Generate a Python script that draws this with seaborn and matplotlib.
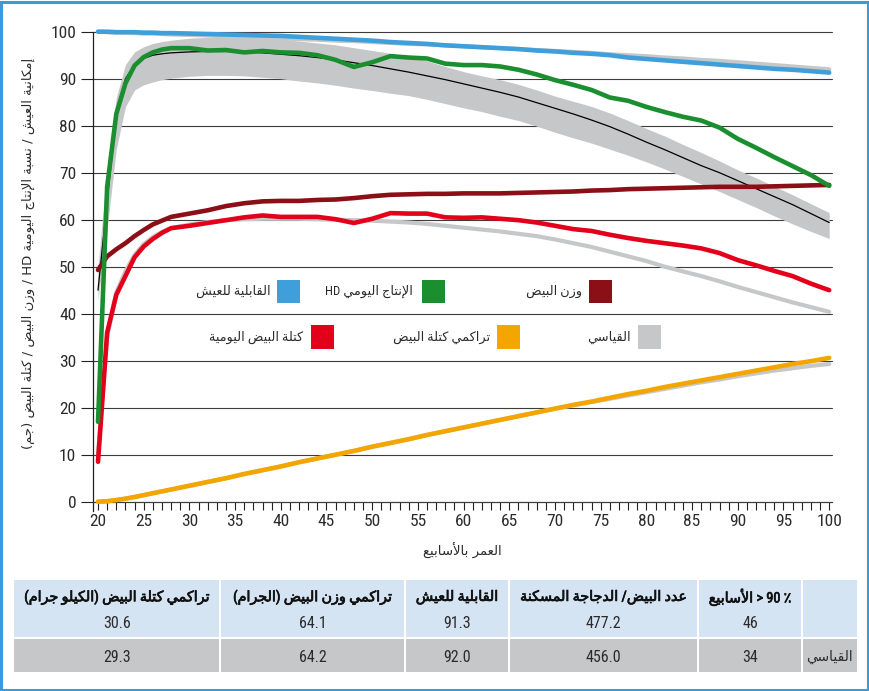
import re
import matplotlib
matplotlib.use("Agg")
import matplotlib.pyplot as plt
import matplotlib.patheffects as pe
from matplotlib import font_manager
from matplotlib.patches import Rectangle
from matplotlib.ticker import MultipleLocator
import seaborn as sns

# ---------------------------------------------------------------- data
weeks = [20, 21, 22, 23, 24, 25, 26, 27, 28, 30, 32, 34, 36, 38, 40, 42, 44, 46, 48, 50,
         52, 54, 56, 58, 60, 62, 64, 66, 68, 70, 72, 74, 76, 78, 80, 82, 84, 86, 88, 90,
         92, 94, 96, 98, 100]

viability = [100.0, 100.0, 99.9, 99.9, 99.9, 99.8, 99.8, 99.7, 99.7, 99.6, 99.5, 99.4, 99.3, 99.2,
             99.1, 98.9, 98.7, 98.5, 98.3, 98.1, 97.8, 97.6, 97.4, 97.1, 96.9, 96.7, 96.5, 96.3,
             96.0, 95.8, 95.5, 95.3, 95.0, 94.5, 94.2, 93.9, 93.6, 93.3, 93.0, 92.7, 92.4, 92.1,
             91.9, 91.6, 91.3]
viability_std = [100.0, 99.9, 99.8, 99.8, 99.7, 99.6, 99.6, 99.5, 99.4, 99.3, 99.2, 99.0, 98.9, 98.7,
                 98.6, 98.4, 98.3, 98.1, 98.0, 97.8, 97.6, 97.4, 97.3, 97.1, 96.9, 96.7, 96.5, 96.3,
                 96.1, 95.9, 95.7, 95.5, 95.2, 95.0, 94.8, 94.5, 94.3, 94.0, 93.8, 93.5, 93.2, 92.9,
                 92.6, 92.3, 92.0]
hd_production = [17.0, 67.0, 82.5, 89.0, 92.8, 94.6, 95.6, 96.2, 96.5, 96.5, 96.0, 96.1, 95.6, 95.9,
                 95.6, 95.5, 95.0, 94.0, 92.5, 93.5, 94.8, 94.5, 94.3, 93.2, 92.9, 92.9, 92.6, 91.9,
                 90.9, 89.7, 88.7, 87.6, 86.0, 85.3, 84.0, 82.9, 81.9, 81.1, 79.6, 77.2, 75.3, 73.3,
                 71.4, 69.5, 67.2]
hd_std = [45.0, 64.0, 82.0, 90.0, 93.0, 94.3, 95.0, 95.3, 95.5, 95.7, 95.8, 95.8, 95.7, 95.5,
          95.2, 94.9, 94.5, 94.0, 93.4, 92.8, 92.1, 91.4, 90.6, 89.8, 88.9, 88.0, 87.1, 86.1,
          84.9, 83.7, 82.5, 81.2, 79.8, 78.2, 76.5, 74.9, 73.2, 71.5, 70.0, 68.3, 66.6, 64.9,
          63.2, 61.3, 59.4]
hd_std_high = [50.0, 71.0, 86.0, 93.0, 95.7, 96.8, 97.5, 97.9, 98.2, 98.6, 98.8, 99.0, 98.9, 98.7,
               98.4, 98.0, 97.6, 97.2, 96.6, 96.0, 95.4, 94.7, 93.8, 92.6, 91.5, 90.6, 89.8, 88.8,
               87.6, 86.3, 85.2, 84.1, 82.7, 81.1, 79.4, 77.8, 76.0, 74.3, 72.5, 70.6, 68.9, 67.1,
               65.3, 63.4, 61.5]
hd_std_low = [43.0, 58.0, 75.0, 84.0, 87.6, 88.7, 89.3, 89.8, 90.1, 90.5, 90.7, 90.7, 90.6, 90.3,
              90.0, 89.5, 89.1, 88.6, 88.0, 87.5, 86.9, 86.4, 85.6, 84.7, 83.8, 83.0, 82.0, 81.1,
              79.9, 78.6, 77.4, 76.3, 75.0, 73.7, 72.3, 70.8, 69.2, 67.6, 66.0, 64.3, 62.6, 60.8,
              59.1, 57.5, 56.0]
egg_weight = [49.3, 52.2, 53.7, 55.0, 56.5, 57.8, 59.0, 59.8, 60.6, 61.3, 62.0, 62.9, 63.5, 63.9,
              64.0, 64.0, 64.2, 64.3, 64.6, 65.0, 65.3, 65.4, 65.5, 65.5, 65.6, 65.6, 65.6, 65.7,
              65.8, 65.9, 66.0, 66.2, 66.3, 66.5, 66.6, 66.7, 66.8, 66.9, 67.0, 67.0, 67.0, 67.1,
              67.2, 67.3, 67.4]
egg_mass = [8.5, 36.0, 44.0, 48.0, 52.0, 54.3, 55.9, 57.2, 58.2, 58.7, 59.3, 59.9, 60.5, 60.9,
            60.6, 60.6, 60.6, 60.1, 59.3, 60.2, 61.4, 61.3, 61.3, 60.5, 60.4, 60.5, 60.2, 59.9,
            59.4, 58.7, 58.0, 57.6, 56.8, 56.1, 55.5, 55.0, 54.5, 53.9, 52.9, 51.4, 50.3, 49.1,
            48.0, 46.4, 45.0]
egg_mass_std = [10.0, 35.0, 44.5, 49.0, 52.5, 54.8, 56.3, 57.4, 58.2, 59.0, 59.5, 59.9, 60.1, 60.2,
                60.2, 60.2, 60.1, 60.0, 59.9, 59.8, 59.6, 59.4, 59.1, 58.7, 58.3, 57.9, 57.5, 57.0,
                56.5, 55.8, 55.0, 54.2, 53.2, 52.2, 51.2, 50.0, 49.0, 48.0, 46.9, 45.7, 44.6, 43.5,
                42.4, 41.4, 40.4]
cum_egg_mass = [0.0, 0.1, 0.35, 0.65, 1.0, 1.4, 1.8, 2.2, 2.6, 3.4, 4.2, 5.0, 5.9, 6.7,
                7.5, 8.4, 9.2, 10.0, 10.8, 11.7, 12.5, 13.3, 14.2, 15.0, 15.8, 16.6, 17.4, 18.2,
                19.0, 19.8, 20.6, 21.3, 22.1, 22.9, 23.6, 24.4, 25.1, 25.8, 26.5, 27.2, 27.9, 28.6,
                29.3, 29.9, 30.6]
cum_egg_mass_std = [0.0, 0.1, 0.35, 0.65, 1.0, 1.4, 1.8, 2.2, 2.6, 3.4, 4.2, 5.0, 5.9, 6.7,
                    7.5, 8.4, 9.2, 10.0, 10.8, 11.7, 12.5, 13.3, 14.2, 15.0, 15.8, 16.6, 17.4, 18.2,
                    19.0, 19.8, 20.5, 21.2, 21.9, 22.6, 23.3, 24.0, 24.7, 25.4, 26.0, 26.7, 27.3, 27.9,
                    28.4, 28.9, 29.3]

y_ticks = [0, 10, 20, 30, 40, 50, 60, 70, 80, 90, 100]
x_ticks = [20, 25, 30, 35, 40, 45, 50, 55, 60, 65, 70, 75, 80, 85, 90, 95, 100]

legend_labels = {
    "viability": "القابلية للعيش",
    "hd": "الإنتاج اليومي HD",
    "egg_weight": "وزن البيض",
    "egg_mass": "كتلة البيض اليومية",
    "cum_mass": "تراكمي كتلة البيض",
    "standard": "القياسي",
}
x_label = "العمر بالأسابيع"
y_label = "إمكانية العيش / نسبة الإنتاج اليومية HD / وزن البيض / كتلة البيض (جم)"

table_headers = ["تراكمي كتلة البيض (الكيلو جرام)", "تراكمي وزن البيض (الجرام)",
                 "القابلية للعيش", "عدد البيض/ الدجاجة المسكنة", "الأسابيع|> 90 ٪", ""]
table_row_product = ["30.6", "64.1", "91.3", "477.2", "46", ""]
table_row_standard = ["29.3", "64.2", "92.0", "456.0", "34", "القياسي"]

colors = {
    "viability": "#3f9fdb",
    "hd": "#1b8f2f",
    "egg_weight": "#8c0e16",
    "egg_mass": "#e3001b",
    "cum_mass": "#f4a600",
    "standard": "#c6c7c9",
}

# ---------------------------------------------------------------- Arabic text shaping
_FORMS = {
    "ء": (0xFE80, 1), "آ": (0xFE81, 2), "أ": (0xFE83, 2), "ؤ": (0xFE85, 2), "إ": (0xFE87, 2),
    "ئ": (0xFE89, 4), "ا": (0xFE8D, 2), "ب": (0xFE8F, 4), "ة": (0xFE93, 2), "ت": (0xFE95, 4),
    "ث": (0xFE99, 4), "ج": (0xFE9D, 4), "ح": (0xFEA1, 4), "خ": (0xFEA5, 4), "د": (0xFEA9, 2),
    "ذ": (0xFEAB, 2), "ر": (0xFEAD, 2), "ز": (0xFEAF, 2), "س": (0xFEB1, 4), "ش": (0xFEB5, 4),
    "ص": (0xFEB9, 4), "ض": (0xFEBD, 4), "ط": (0xFEC1, 4), "ظ": (0xFEC5, 4), "ع": (0xFEC9, 4),
    "غ": (0xFECD, 4), "ف": (0xFED1, 4), "ق": (0xFED5, 4), "ك": (0xFED9, 4), "ل": (0xFEDD, 4),
    "م": (0xFEE1, 4), "ن": (0xFEE5, 4), "ه": (0xFEE9, 4), "و": (0xFEED, 2), "ى": (0xFEEF, 2),
    "ي": (0xFEF1, 4),
}
_LAM_ALEF = {"آ": 0xFEF5, "أ": 0xFEF7, "إ": 0xFEF9, "ا": 0xFEFB}
_MIRROR = {"(": ")", ")": "(", "<": ">", ">": "<", "[": "]", "]": "["}


def _joins_prev(c):
    return c in _FORMS and _FORMS[c][1] > 1


def shape(text):
    out, prev_link, i = [], False, 0
    while i < len(text):
        c = text[i]
        if c not in _FORMS:
            out.append(c)
            prev_link = False
            i += 1
            continue
        base, nforms = _FORMS[c]
        if c == "ل" and i + 1 < len(text) and text[i + 1] in _LAM_ALEF:
            out.append(chr(_LAM_ALEF[text[i + 1]] + (1 if prev_link else 0)))
            prev_link = False
            i += 2
            continue
        if nforms == 1:
            out.append(chr(base))
            prev_link = False
            i += 1
            continue
        nxt = text[i + 1] if i + 1 < len(text) else ""
        link_next = nforms == 4 and _joins_prev(nxt)
        if prev_link and link_next:
            form = 3
        elif prev_link:
            form = 1
        elif link_next:
            form = 2
        else:
            form = 0
        out.append(chr(base + form))
        prev_link = link_next
        i += 1
    return "".join(out)


def rtl(text):
    """Shaped Arabic text laid out right-to-left for a left-to-right renderer."""
    tokens = re.findall(r"[A-Za-z0-9.]+|.", shape(text))
    return "".join(_MIRROR.get(t, t) for t in reversed(tokens))


def cell_text(text):
    if "|" in text:  # Arabic word followed by a left-to-right expression
        word, rest = text.split("|")
        return rtl(word) + " " + rest
    return rtl(text)


# ---------------------------------------------------------------- fonts
_names = {f.name for f in font_manager.fontManager.ttflist}
narrow = next((n for n in ["Liberation Sans Narrow", "Roboto Condensed", "Open Sans Condensed",
                           "Liberation Sans"] if n in _names), "DejaVu Sans")
sns.set_theme(style="white")
plt.rcParams["font.family"] = [narrow, "DejaVu Sans"]
ARABIC = ["DejaVu Sans"]
TXT = "#2b2b2b"

# ---------------------------------------------------------------- figure
W, H = 870, 691
fig = plt.figure(figsize=(W / 100, H / 100), dpi=100)
fig.patch.set_facecolor("white")


def fx(x):
    return x / W


def fy(y):
    return 1 - y / H


AX_L, AX_R, AX_T, AX_B = 93, 832, 31.7, 501.7
ax = fig.add_axes([fx(AX_L), fy(AX_B), (AX_R - AX_L) / W, (AX_B - AX_T) / H])
ax.set_facecolor("white")

px_per_week = (829.2 - 98.0) / 80
ax.set_xlim(20 - (98 - AX_L) / px_per_week, 100 + (AX_R - 829.2) / px_per_week)
ax.set_ylim(0, 100)

# standard band and standard curves
ax.fill_between(weeks, hd_std_low, hd_std_high, color=colors["standard"], lw=0, zorder=1)
for series in (viability_std, egg_mass_std, cum_egg_mass_std):
    sns.lineplot(x=weeks, y=series, ax=ax, color=colors["standard"], linewidth=3.0,
                 legend=False, zorder=1.5, clip_on=False)
sns.lineplot(x=weeks, y=hd_std, ax=ax, color="black", linewidth=0.9, legend=False, zorder=2,
             clip_on=False)

# product curves
for series, key in ((viability, "viability"), (cum_egg_mass, "cum_mass"),
                    (egg_weight, "egg_weight"), (egg_mass, "egg_mass"), (hd_production, "hd")):
    sns.lineplot(x=weeks, y=series, ax=ax, color=colors[key], linewidth=3.3, legend=False,
                 zorder=3, clip_on=False, solid_joinstyle="round")

# axes styling
ax.set_yticks(y_ticks)
ax.set_xticks(x_ticks)
ax.xaxis.set_minor_locator(MultipleLocator(1))
ax.grid(axis="y", color="#3c3c3c", linewidth=0.8)
ax.set_axisbelow(True)
for gl in ax.get_ygridlines():
    gl.set_clip_on(False)
for side in ("top", "right"):
    ax.spines[side].set_visible(False)
ax.spines["left"].set_color("#222222")
ax.spines["left"].set_linewidth(0.9)
ax.spines["left"].set_bounds(-2, 100)
ax.spines["bottom"].set_color("#3c3c3c")
ax.spines["bottom"].set_linewidth(0.8)
ax.tick_params(axis="y", which="major", direction="out", length=9, width=0.8, color="#222222",
               pad=3, labelsize=12.5, labelcolor=TXT, left=True)
ax.tick_params(axis="x", which="both", direction="out", length=5.5, width=0.8, color="#222222",
               pad=3, labelsize=12.5, labelcolor=TXT, bottom=True)
ax.tick_params(axis="x", which="minor", labelbottom=False)
ax.set_xlabel("")
ax.set_ylabel("")

fig.text(fx(462), fy(551), rtl(x_label), ha="center", va="center", fontsize=9.5,
         color=TXT, family=ARABIC)
fig.text(fx(28), fy(253), rtl(y_label), ha="center", va="center", rotation=90, fontsize=9.5,
         color=TXT, family=ARABIC)

# legend: swatch left edge, swatch top, text right edge, text centre line
legend_items = [
    ("viability", 277, 279.5, 271, 291.5),
    ("hd", 422, 279.5, 413, 291.5),
    ("egg_weight", 589, 279.5, 582, 291.5),
    ("egg_mass", 311, 325, 303, 337.5),
    ("cum_mass", 497, 325, 490, 337.5),
    ("standard", 638, 325, 631, 337.5),
]
SW = 23.5
for key, x0, y0, tx, ty in legend_items:
    fig.patches.append(Rectangle((fx(x0), fy(y0 + SW)), SW / W, SW / H,
                                 transform=fig.transFigure, facecolor=colors[key],
                                 edgecolor="none", zorder=5))
    fig.text(fx(tx), fy(ty), rtl(legend_labels[key]), ha="right", va="center", fontsize=9.3,
             color=TXT, family=[narrow, "DejaVu Sans"], zorder=5)

# summary table
col_edges = [14, 220, 405, 509, 698, 802, 857]
row_edges = [580, 610, 637, 639, 672]
blue_fill, grey_fill = "#d5e4f3", "#c6c7c9"
gap = 2
semibold = [pe.withStroke(linewidth=0.5, foreground="#111111")]
for c in range(len(col_edges) - 1):
    x0 = col_edges[c] + (gap / 2 if c > 0 else 0)
    x1 = col_edges[c + 1] - (gap / 2 if c < len(col_edges) - 2 else 0)
    for (y0, y1, fill) in ((row_edges[0], row_edges[2], blue_fill),
                           (row_edges[3], row_edges[4], grey_fill)):
        fig.patches.append(Rectangle((fx(x0), fy(y1)), (x1 - x0) / W, (y1 - y0) / H,
                                     transform=fig.transFigure, facecolor=fill,
                                     edgecolor="none", zorder=1))
    xc = (col_edges[c] + col_edges[c + 1]) / 2
    if table_headers[c]:
        fig.text(fx(xc), fy(597), cell_text(table_headers[c]), ha="center", va="center",
                 fontsize=10.3, color="#111111", family=[narrow, "DejaVu Sans"],
                 path_effects=semibold)
    if table_row_product[c]:
        fig.text(fx(xc), fy(624), table_row_product[c], ha="center", va="center",
                 fontsize=11.5, color=TXT)
    if table_row_standard[c]:
        txt = table_row_standard[c]
        if not txt[0].isdigit():
            fig.text(fx(829.5), fy(657), rtl(txt), ha="center", va="center", fontsize=10,
                     color=TXT, family=ARABIC)
        else:
            fig.text(fx(xc), fy(657), txt, ha="center", va="center", fontsize=11.5, color=TXT)

# outer frame
fig.patches.append(Rectangle((fx(1.5), fy(689.5)), (W - 3) / W, (H - 3) / H,
                             transform=fig.transFigure, fill=False, edgecolor="#3d9ad8",
                             linewidth=2.2, zorder=10))

fig.savefig("out.png", dpi=100, facecolor="white")
